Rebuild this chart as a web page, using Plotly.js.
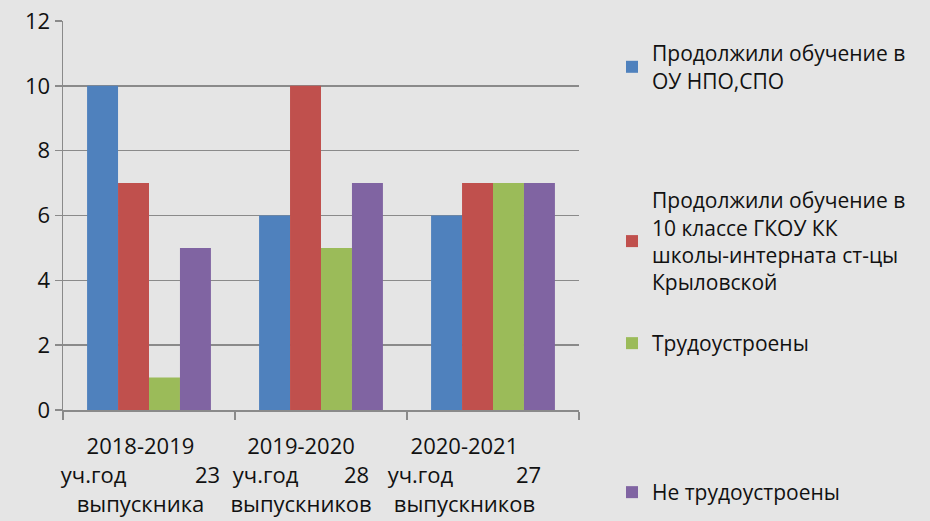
<!DOCTYPE html>
<html>
<head>
<meta charset="utf-8">
<script src="https://cdn.plot.ly/plotly-3.0.1.min.js"></script>
<style>html,body{margin:0;padding:0;background:#e5e5e5;}#chart{width:930px;height:521px;}</style>
</head>
<body>
<div id="chart"></div>
<script>
const categories = ["2018-2019", "2019-2020", "2020-2021"];
const tickLabels = [
  "2018-2019\u00a0\u00a0\u00a0<br>уч.год\u00a0\u00a0\u00a0\u00a0\u00a0\u00a0\u00a0\u00a0\u00a0\u00a0\u00a0\u00a023\u00a0\u00a0\u00a0<br>выпускника\u00a0\u00a0\u00a0",
  "2019-2020\u00a0\u00a0\u00a0\u00a0\u00a0\u00a0\u00a0<br>уч.год\u00a0\u00a0\u00a0\u00a0\u00a0\u00a0\u00a0\u00a028\u00a0\u00a0\u00a0\u00a0\u00a0\u00a0\u00a0<br>выпускников\u00a0\u00a0\u00a0\u00a0\u00a0\u00a0\u00a0",
  "2020-2021\u00a0\u00a0\u00a0\u00a0\u00a0\u00a0\u00a0\u00a0\u00a0\u00a0<br>уч.год\u00a0\u00a0\u00a0\u00a0\u00a0\u00a0\u00a0\u00a0\u00a0\u00a0\u00a027\u00a0\u00a0\u00a0\u00a0\u00a0\u00a0\u00a0\u00a0\u00a0\u00a0<br>выпускников\u00a0\u00a0\u00a0\u00a0\u00a0\u00a0\u00a0\u00a0\u00a0\u00a0"
];
const seriesNames = [
  "Продолжили обучение в<br>ОУ НПО,СПО",
  "Продолжили обучение в<br>10 классе ГКОУ КК<br>школы-интерната ст-цы<br>Крыловской",
  "Трудоустроены",
  "Не трудоустроены"
];
const sNPO = [10, 6, 6];
const s10class = [7, 10, 7];
const sEmployed = [1, 5, 7];
const sNotEmployed = [5, 7, 7];

const values = [sNPO, s10class, sEmployed, sNotEmployed];
const colors = ["#4f81bd", "#c0504d", "#9bbb59", "#8064a2"];
const legendIds = ["legend", "legend2", "legend3", "legend4"];
const legendTops = [33, 180, 323, 472];

const traces = values.map((v, i) => ({
  type: "bar",
  x: categories,
  y: v,
  name: seriesNames[i],
  marker: {color: colors[i]},
  legend: legendIds[i],
  hoverinfo: "y"
}));
// empty helper trace so the label-only overlay axis is drawn
traces.push({type: "scatter", x: [], y: [], xaxis: "x2", yaxis: "y", showlegend: false, hoverinfo: "skip"});

const tickFont = {family: "Open Sans, sans-serif", size: 22, color: "#111111"};
const legendBase = (top) => ({
  xref: "container", yref: "container",
  x: 612 / 930, xanchor: "left",
  y: 1 - top / 521, yanchor: "top",
  bgcolor: "rgba(0,0,0,0)",
  font: {family: "Open Sans, sans-serif", size: 21, color: "#111111"},
  itemwidth: 30
});

const layout = {
  width: 930, height: 521,
  margin: {l: 63, r: 351, t: 21, b: 111},
  paper_bgcolor: "#e5e5e5",
  plot_bgcolor: "rgba(0,0,0,0)",
  font: tickFont,
  barmode: "group",
  bargap: 0.28,
  bargroupgap: 0,
  showlegend: true,
  legend: legendBase(legendTops[0]),
  legend2: legendBase(legendTops[1]),
  legend3: legendBase(legendTops[2]),
  legend4: legendBase(legendTops[3]),
  xaxis: {
    type: "category",
    showline: true, linecolor: "#8a8a8a", linewidth: 1.5,
    ticks: "outside", tickson: "boundaries", ticklen: 8, tickcolor: "#8a8a8a", tickwidth: 1.5,
    showgrid: false,
    showticklabels: false
  },
  xaxis2: {
    type: "category",
    overlaying: "x", matches: "x", anchor: "y", side: "bottom",
    tickvals: categories,
    ticktext: tickLabels,
    tickangle: 0,
    ticks: "outside", ticklen: 17, tickcolor: "rgba(0,0,0,0)",
    showline: false, showgrid: false, zeroline: false,
    tickfont: tickFont
  },
  yaxis: {
    range: [0, 12], dtick: 2,
    showline: true, linecolor: "#8a8a8a", linewidth: 1.5,
    ticks: "outside", ticklen: 7, tickcolor: "#8a8a8a", tickwidth: 1.5,
    showgrid: true, gridcolor: "#8a8a8a", gridwidth: 1.5,
    zeroline: false,
    tickfont: tickFont
  }
};

Plotly.newPlot("chart", traces, layout, {displayModeBar: false, staticPlot: true});
</script>
</body>
</html>
